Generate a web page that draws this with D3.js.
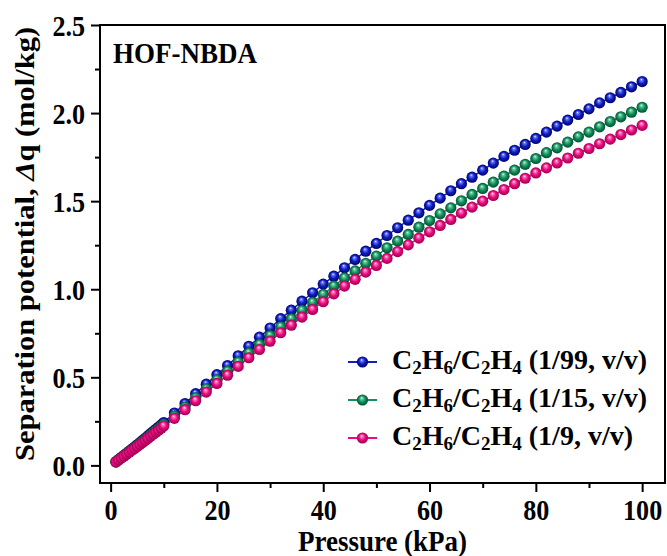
<!DOCTYPE html>
<html>
<head>
<meta charset="utf-8">
<script src="https://cdn.jsdelivr.net/npm/d3@7/dist/d3.min.js"></script>
<style>
  html, body { margin: 0; padding: 0; background: #fff; }
  svg { display: block; }
  text { font-family: "Liberation Serif", "Times New Roman", "DejaVu Serif", serif; font-weight: bold; fill: #000; }
</style>
</head>
<body>
<svg id="chart" width="667" height="556"></svg>
<script>
// ---------------- data ----------------
const pressure = [1, 1.5, 2, 2.5, 3, 3.5, 4, 4.5, 5, 5.5, 6, 6.5, 7, 7.5, 8, 8.5, 9, 9.5, 10,
  12, 14, 16, 18, 20, 22, 24, 26, 28, 30, 32, 34, 36, 38, 40,
  42, 44, 46, 48, 50, 52, 54, 56, 58, 60, 62, 64, 66, 68, 70,
  72, 74, 76, 78, 80, 82, 84, 86, 88, 90, 92, 94, 96, 98, 100];

const ratio1_99 = [0.021, 0.033, 0.045, 0.057, 0.069, 0.081, 0.093, 0.105, 0.117, 0.129, 0.142, 0.154, 0.167, 0.180, 0.192, 0.205, 0.217, 0.230, 0.243,
  0.297, 0.351, 0.407, 0.461, 0.515, 0.567, 0.622, 0.676, 0.728, 0.780, 0.833, 0.881, 0.932, 0.980, 1.029,
  1.074, 1.122, 1.169, 1.216, 1.260, 1.305, 1.349, 1.392, 1.434, 1.476, 1.517, 1.559, 1.599, 1.636, 1.676,
  1.716, 1.754, 1.789, 1.822, 1.856, 1.892, 1.926, 1.960, 1.992, 2.024, 2.058, 2.087, 2.117, 2.149, 2.179];

const ratio1_15 = [0.020, 0.032, 0.043, 0.055, 0.066, 0.078, 0.089, 0.101, 0.112, 0.124, 0.136, 0.148, 0.160, 0.173, 0.184, 0.197, 0.208, 0.221, 0.233,
  0.280, 0.331, 0.384, 0.435, 0.486, 0.535, 0.587, 0.638, 0.687, 0.737, 0.787, 0.832, 0.880, 0.925, 0.971,
  1.018, 1.064, 1.104, 1.147, 1.188, 1.235, 1.273, 1.311, 1.352, 1.390, 1.428, 1.462, 1.502, 1.538, 1.572,
  1.608, 1.642, 1.676, 1.709, 1.742, 1.775, 1.803, 1.835, 1.865, 1.892, 1.922, 1.952, 1.979, 2.005, 2.033];

const ratio1_9 = [0.019, 0.030, 0.041, 0.052, 0.063, 0.074, 0.085, 0.096, 0.107, 0.118, 0.130, 0.141, 0.153, 0.165, 0.176, 0.188, 0.199, 0.211, 0.223,
  0.267, 0.316, 0.367, 0.416, 0.465, 0.512, 0.562, 0.611, 0.658, 0.705, 0.753, 0.796, 0.842, 0.885, 0.929,
  0.974, 1.018, 1.056, 1.097, 1.135, 1.175, 1.214, 1.252, 1.290, 1.326, 1.362, 1.396, 1.432, 1.466, 1.500,
  1.532, 1.566, 1.599, 1.630, 1.660, 1.689, 1.717, 1.745, 1.772, 1.799, 1.826, 1.852, 1.878, 1.904, 1.930];

const seriesNames = ["1/99", "1/15", "1/9"];
const xTicks = [0, 20, 40, 60, 80, 100];
const xMinorTicks = [10, 30, 50, 70, 90];
const yTicks = [0, 0.5, 1.0, 1.5, 2.0, 2.5];
const yMinorTicks = [0.25, 0.75, 1.25, 1.75, 2.25];

// ---------------- styles ----------------
const colors = [
  { id: "gBlue",  light: "#6f7cff", base: "#1020c0", dark: "#00006a" },
  { id: "gGreen", light: "#6fd0a6", base: "#13905e", dark: "#004d30" },
  { id: "gPink",  light: "#ff7dbd", base: "#ec0a82", dark: "#9a004c" }
];
const lineColors = ["#1020c0", "#13905e", "#ec0a82"];
const series = [ratio1_99, ratio1_15, ratio1_9];

const svg = d3.select("#chart");
const L = 100, R = 665, T = 25, B = 483;
const x = d3.scaleLinear().domain([-2, 104.3]).range([L, R]);
const y = d3.scaleLinear().domain([-0.1, 2.5]).range([B, T]);
const SX = 0.9; // horizontal squish of the original typeface

// gradients
const defs = svg.append("defs");
colors.forEach(c => {
  const g = defs.append("radialGradient").attr("id", c.id)
    .attr("cx", "0.5").attr("cy", "0.5").attr("r", "0.5")
    .attr("fx", "0.42").attr("fy", "0.3");
  g.append("stop").attr("offset", "0").attr("stop-color", "#ffffff");
  g.append("stop").attr("offset", "0.18").attr("stop-color", c.light);
  g.append("stop").attr("offset", "0.55").attr("stop-color", c.base);
  g.append("stop").attr("offset", "1").attr("stop-color", c.dark);
});

// ---------------- axes ----------------
function styleAxis(g) {
  g.select(".domain").remove();
  g.selectAll(".tick line").attr("stroke", "#000").attr("stroke-width", 2);
}

const yAxis = svg.append("g").attr("transform", `translate(${L},0)`)
  .call(d3.axisLeft(y).tickValues(yTicks).tickSize(9).tickFormat(d3.format(".1f")));
styleAxis(yAxis);
yAxis.selectAll(".tick text")
  .attr("x", -15 / SX).attr("dy", "0.35em")
  .attr("transform", `scale(${SX},1)`)
  .style("font-size", "29px").attr("font-family", null);

const yMinor = svg.append("g").attr("transform", `translate(${L},0)`)
  .call(d3.axisLeft(y).tickValues(yMinorTicks).tickSize(5).tickFormat(""));
styleAxis(yMinor);

const xAxis = svg.append("g").attr("transform", `translate(0,${B})`)
  .call(d3.axisBottom(x).tickValues(xTicks).tickSize(9).tickFormat(d3.format("d")));
styleAxis(xAxis);
xAxis.selectAll(".tick text")
  .attr("y", 37).attr("dy", 0)
  .attr("transform", `scale(${SX},1)`)
  .style("font-size", "29px").attr("font-family", null);

const xMinor = svg.append("g").attr("transform", `translate(0,${B})`)
  .call(d3.axisBottom(x).tickValues(xMinorTicks).tickSize(5).tickFormat(""));
styleAxis(xMinor);

// frame
svg.append("rect").attr("x", L).attr("y", T).attr("width", R - L).attr("height", B - T)
  .attr("fill", "none").attr("stroke", "#000").attr("stroke-width", 2);

// ---------------- series ----------------
const plot = svg.append("g");
const line = d3.line().x((d, i) => x(pressure[i])).y(d => y(d));
series.forEach((vals, s) => {
  plot.append("path").datum(vals).attr("d", line)
    .attr("fill", "none").attr("stroke", lineColors[s]).attr("stroke-width", 1.5);
});
series.forEach((vals, s) => {
  plot.append("g").selectAll("circle").data(vals).join("circle")
    .attr("cx", (d, i) => x(pressure[i])).attr("cy", d => y(d))
    .attr("r", 5.6).attr("fill", `url(#${colors[s].id})`);
});

// ---------------- texts ----------------
svg.append("text").attr("transform", `translate(113,63) scale(${SX},1)`)
  .style("font-size", "30px").text("HOF-NBDA");

svg.append("text").attr("transform", `translate(${(L + R) / 2},551) scale(${SX},1)`)
  .attr("text-anchor", "middle").style("font-size", "30px").text("Pressure (kPa)");

const yt = svg.append("text")
  .attr("transform", `translate(34,${(T + B) / 2 - 10}) scale(${SX},1) rotate(-90)`)
  .attr("text-anchor", "middle").style("font-size", "30.5px");
yt.append("tspan").text("Separation potential, ");
yt.append("tspan").style("font-style", "italic").text("Δ");
yt.append("tspan").text("q (mol/kg)");

// ---------------- legend ----------------
const legendY = [362, 400, 438];
series.forEach((vals, s) => {
  const g = svg.append("g").attr("transform", `translate(0,${legendY[s]})`);
  g.append("line").attr("x1", 348).attr("x2", 377).attr("y1", 0).attr("y2", 0)
    .attr("stroke", lineColors[s]).attr("stroke-width", 2);
  g.append("circle").attr("cx", 362.5).attr("cy", 0).attr("r", 5.6)
    .attr("fill", `url(#${colors[s].id})`);
  const t = g.append("text").attr("x", 392).attr("y", 7).style("font-size", "28px");
  const parts = [["C", 0], ["2", 1], ["H", 0], ["6", 1], ["/C", 0], ["2", 1], ["H", 0], ["4", 1],
                 [` (${seriesNames[s]}, v/v)`, 0]];
  let shifted = false;
  parts.forEach(([txt, sub]) => {
    const ts = t.append("tspan").text(txt);
    if (sub && !shifted) { ts.attr("dy", 5).style("font-size", "19px"); shifted = true; }
    else if (sub) { ts.style("font-size", "19px"); }
    else if (!sub && shifted) { ts.attr("dy", -5); shifted = false; }
  });
});
</script>
</body>
</html>
